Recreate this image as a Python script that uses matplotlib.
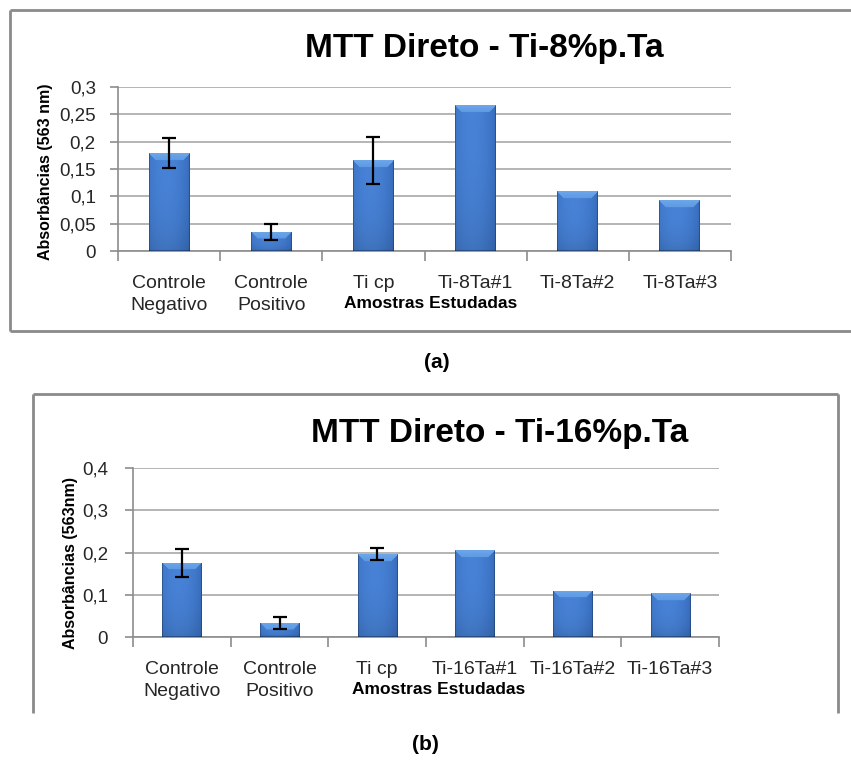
import numpy as np
import matplotlib
matplotlib.use("Agg")
import matplotlib.pyplot as plt
from matplotlib.lines import Line2D
from matplotlib.ticker import FixedLocator

# ---------------- data ----------------
cats_a = ["Controle\nNegativo", "Controle\nPositivo", "Ti cp", "Ti-8Ta#1", "Ti-8Ta#2", "Ti-8Ta#3"]
vals_a = [0.179, 0.035, 0.166, 0.267, 0.109, 0.093]
errs_a = [0.027, 0.0145, 0.043, 0.0, 0.0, 0.0]
yticks_a = [0, 0.05, 0.1, 0.15, 0.2, 0.25, 0.3]
yticklabels_a = ["0", "0,05", "0,1", "0,15", "0,2", "0,25", "0,3"]
title_a = "MTT Direto - Ti-8%p.Ta"
ylabel_a = "Absorbâncias (563 nm)"

cats_b = ["Controle\nNegativo", "Controle\nPositivo", "Ti cp", "Ti-16Ta#1", "Ti-16Ta#2", "Ti-16Ta#3"]
vals_b = [0.176, 0.034, 0.196, 0.205, 0.109, 0.104]
errs_b = [0.033, 0.0145, 0.014, 0.0, 0.0, 0.0]
yticks_b = [0, 0.1, 0.2, 0.3, 0.4]
yticklabels_b = ["0", "0,1", "0,2", "0,3", "0,4"]
title_b = "MTT Direto - Ti-16%p.Ta"
ylabel_b = "Absorbâncias (563nm)"

xlabel = "Amostras Estudadas"

# ---------------- style ----------------
W, H = 851, 760
SANS = ["Liberation Sans", "DejaVu Sans"]
GRID = "#a8a8a8"
AXC = "#8c8c8c"
FRAME = "#8a8a8a"
TXT = "#262626"

fig = plt.figure(figsize=(W / 100, H / 100), dpi=100)
fig.patch.set_facecolor("white")


def fx(px):
    return px / W


def fy(py):
    return 1 - py / H


def frame_line(xs, ys):
    fig.add_artist(Line2D([fx(v) for v in xs], [fy(v) for v in ys],
                          transform=fig.transFigure, color=FRAME, lw=2.0,
                          solid_capstyle="butt"))


# frame (a): left, top, bottom
frame_line([10, 10], [10, 331])
frame_line([10, 851], [10, 10])
frame_line([10, 851], [331, 331])
# frame (b): left, top, right
frame_line([33, 33], [394, 713])
frame_line([33, 838], [394, 394])
frame_line([838, 838], [394, 713])


def gradient_bars(ax, bars):
    fig.canvas.draw()
    for p in bars:
        x0, y0 = p.get_x(), p.get_y()
        w, h = p.get_width(), p.get_height()
        (px0, py0), (px1, py1) = ax.transData.transform([(x0, y0), (x0 + w, y0 + h)])
        npx = max(int(abs(px1 - px0)), 2)
        npy = max(int(abs(py1 - py0)), 2)
        u = np.linspace(0, 1, npx)[None, :]
        v = np.arange(npy)[:, None]  # 0 = top row
        shade = 1 - 1.6 * (u - 0.42) ** 2
        base = np.array([0.17, 0.36, 0.66])
        light = np.array([0.28, 0.51, 0.84])
        t = np.clip(shade, 0, 1)[..., None]
        img = base + (light - base) * t
        img = np.broadcast_to(img, (npy, npx, 3)).copy()
        vb = (v / max(npy - 1, 1))[..., None]
        img *= (1 - 0.12 * vb ** 3)
        bev = min(7, npy // 2)
        for r in range(bev):
            left = r / npx
            mask = (u[0] >= left) & (u[0] <= 1 - left)
            f = 0.25 * r / max(bev, 1)
            img[r, mask] = np.array([0.42, 0.65, 0.92]) * (1 - f) + np.array([0.2, 0.45, 0.78]) * f
        img[:, 0] *= 0.75
        img[:, -1] *= 0.75
        img[-1, :] *= 0.7
        im = ax.imshow(np.clip(img, 0, 1), extent=(x0, x0 + w, y0, y0 + h),
                       aspect="auto", origin="upper", zorder=3, interpolation="bilinear")
        im.set_clip_path(p)


def make_panel(rect, cats, vals, errs, yticks, yticklabels, title, ylabel,
               title_xy, ylabel_xy, xlabel_xy, letter, letter_xy, ypad):
    ax = fig.add_axes(rect)
    x = np.arange(len(cats))
    ax.set_xlim(-0.5, len(cats) - 0.5)
    ax.set_ylim(yticks[0], yticks[-1])
    bars = ax.bar(x, vals, width=0.4, color="#3a6db3", edgecolor="none", zorder=2)
    ax.yaxis.set_major_locator(FixedLocator(yticks))
    ax.set_yticklabels(yticklabels, fontsize=13.5, family=SANS, color=TXT)
    ax.yaxis.grid(True, color=GRID, lw=1.2)
    ax.set_axisbelow(True)
    for s in ("top", "right"):
        ax.spines[s].set_visible(False)
    for s in ("left", "bottom"):
        ax.spines[s].set_color(AXC)
        ax.spines[s].set_linewidth(1.2)
    ax.tick_params(axis="y", direction="out", length=6, color=AXC, width=1.2, pad=ypad)
    ax.set_xticks(x)
    ax.set_xticklabels(cats, fontsize=14, family=SANS, color=TXT, linespacing=1.45)
    ax.set_xticks(np.arange(-0.5, len(cats), 1.0), minor=True)
    ax.tick_params(axis="x", which="major", length=0, pad=17)
    ax.tick_params(axis="x", which="minor", direction="out", length=7, color=AXC, width=1.2)
    gradient_bars(ax, bars)
    ex = [xi for xi, e in zip(x, errs) if e > 0]
    ev = [v for v, e in zip(vals, errs) if e > 0]
    ee = [e for e in errs if e > 0]
    ax.errorbar(ex, ev, yerr=ee, fmt="none", ecolor="black", elinewidth=1.6,
                capsize=5, capthick=1.6, zorder=5)
    fig.text(fx(title_xy[0]), fy(title_xy[1]), title, fontsize=24, fontweight="bold",
             family=SANS, ha="center", va="center")
    fig.text(fx(ylabel_xy[0]), fy(ylabel_xy[1]), ylabel, fontsize=11.5, fontweight="bold",
             family=SANS, rotation=90, ha="center", va="center")
    fig.text(fx(xlabel_xy[0]), fy(xlabel_xy[1]), xlabel, fontsize=12.5, fontweight="bold",
             family=SANS, ha="center", va="center")
    fig.text(fx(letter_xy[0]), fy(letter_xy[1]), letter, fontsize=15, fontweight="bold",
             family=SANS, ha="center", va="center")
    return ax


make_panel([fx(118), fy(251), fx(731) - fx(118), fy(87) - fy(251)],
           cats_a, vals_a, errs_a, yticks_a, yticklabels_a, title_a, ylabel_a,
           (484, 49), (46, 172), (431, 304), "(a)", (437, 363), 10)
make_panel([fx(133), fy(637), fx(719) - fx(133), fy(468) - fy(637)],
           cats_b, vals_b, errs_b, yticks_b, yticklabels_b, title_b, ylabel_b,
           (500, 433), (70, 563), (439, 689), "(b)", (425, 745), 12)

fig.savefig("out.png", dpi=100, facecolor="white")
